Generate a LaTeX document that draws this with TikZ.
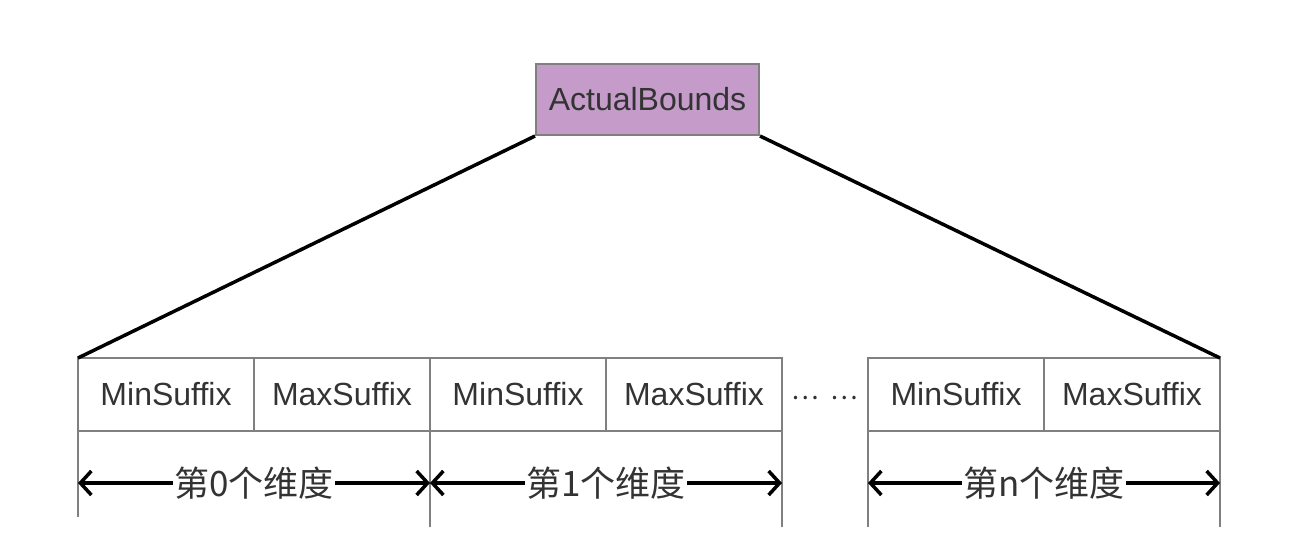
\documentclass[tikz,border=0pt]{standalone}
\usepackage{fontspec}
\setmainfont{Liberation Sans}
\newfontfamily\cjk{Noto Sans CJK SC}
\usetikzlibrary{arrows.meta,positioning}
\definecolor{boundsfill}{HTML}{C49BC9}
\definecolor{linegray}{HTML}{808080}
\definecolor{textgray}{HTML}{333333}

\begin{document}
\begin{tikzpicture}[
  x=1pt, y=-1pt,
  font=\fontsize{32}{38}\selectfont,
  topbox/.style={draw=linegray, line width=2pt, fill=boundsfill, text=textgray,
                 minimum width=223pt, minimum height=71pt, inner sep=0pt},
  cell/.style={draw=linegray, line width=1.5pt, text=textgray, inner sep=0pt,
               outer sep=0pt, minimum width=176pt, minimum height=73pt},
  tick/.style={draw=linegray, line width=1.5pt},
  link/.style={line width=3.5pt},
  dimarrow/.style={{Straight Barb[length=11pt,width=24pt]}-{Straight Barb[length=11pt,width=24pt]}, line width=3.5pt},
  dimlabel/.style={fill=white, inner sep=1pt, text=textgray, font=\fontsize{35}{40}\cjk}
]
\useasboundingbox (0,0) rectangle (1312,546);

\node[topbox] (bounds) at (647.5,99.5) {ActualBounds};

% dimension cells
\node[cell, anchor=north west] (min0) at (78,358) {MinSuffix};
\node[cell, right=0pt of min0] (max0) {MaxSuffix};
\node[cell, right=0pt of max0] (min1) {MinSuffix};
\node[cell, right=0pt of min1] (max1) {MaxSuffix};
\node[text=textgray, inner sep=0pt, font=\fontsize{26}{30}\cjk] (dots) at (825,398) {…\hspace{12pt}…};
\node[cell, anchor=north west] (minn) at (868,358) {MinSuffix};
\node[cell, right=0pt of minn] (maxn) {MaxSuffix};

\draw[link] (bounds.south west) -- (min0.north west);
\draw[link] (bounds.south east) -- (maxn.north east);

% guide lines under the cells
\draw[tick] (min0.south west) -- ++(0,86) coordinate (g0);
\draw[tick] (min1.south west) -- ++(0,96) coordinate (g1);
\draw[tick] (max1.south east) -- ++(0,96) coordinate (g2);
\draw[tick] (minn.south west) -- ++(0,96) coordinate (g3);
\draw[tick] (maxn.south east) -- ++(0,96) coordinate (g4);

\coordinate (a0) at ([yshift=-52pt]min0.south west);
\coordinate (a1) at ([yshift=-52pt]min1.south west);
\coordinate (a2) at ([yshift=-52pt]max1.south east);
\coordinate (a3) at ([yshift=-52pt]minn.south west);
\coordinate (a4) at ([yshift=-52pt]maxn.south east);

\draw[dimarrow] (a0) -- (a1) node[dimlabel, midway] (dim0) {第0个维度};
\draw[dimarrow] (a1) -- (a2) node[dimlabel, midway] (dim1) {第1个维度};
\draw[dimarrow] (a3) -- (a4) node[dimlabel, midway] (dimn) {第n个维度};
\end{tikzpicture}
\end{document}
